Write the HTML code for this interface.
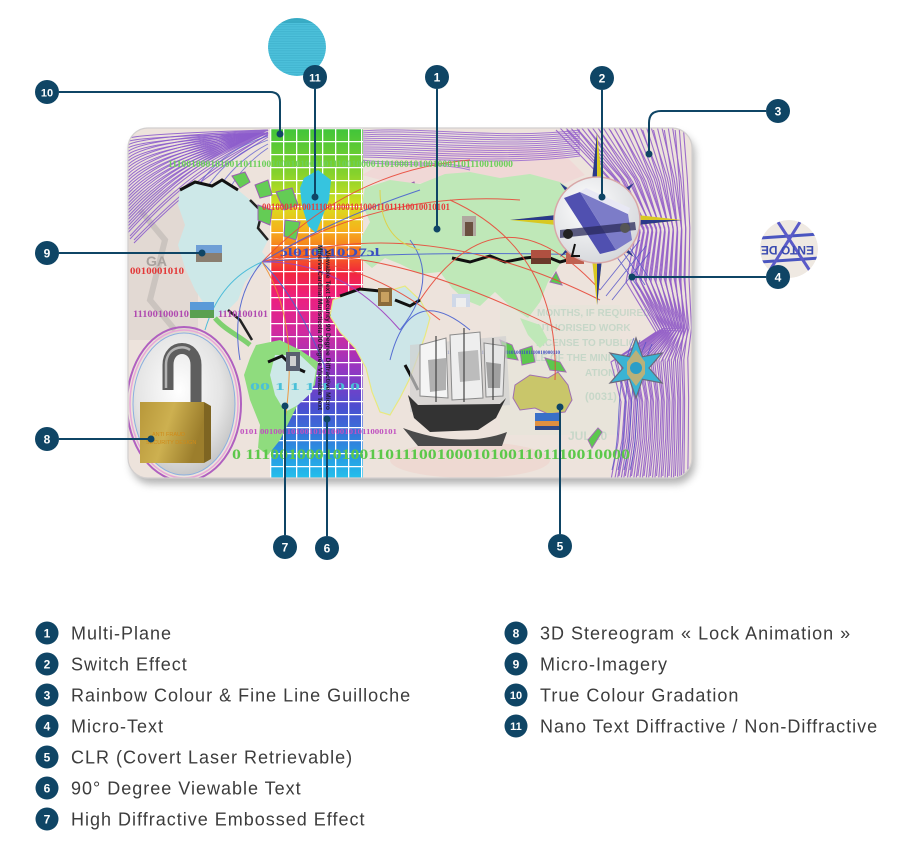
<!DOCTYPE html>
<html><head><meta charset="utf-8">
<style>
html,body{margin:0;padding:0;background:#fff;}
body{width:920px;height:844px;overflow:hidden;position:relative;}
svg{position:absolute;left:0;top:0;display:block;}
</style></head>
<body>
<svg width="920" height="844" viewBox="0 0 920 844" xmlns="http://www.w3.org/2000/svg" xmlns:xlink="http://www.w3.org/1999/xlink" font-family="Liberation Sans, sans-serif">
<defs>
  <clipPath id="card"><rect x="128" y="128" width="564" height="350" rx="20"/></clipPath>
  <clipPath id="nano"><circle cx="297" cy="47" r="29"/></clipPath>
  <clipPath id="micro"><circle cx="789" cy="249" r="29"/></clipPath>
  <filter id="sh" x="-10%" y="-10%" width="120%" height="130%"><feGaussianBlur stdDeviation="4"/></filter>
  <linearGradient id="rain" x1="0" y1="128" x2="0" y2="478" gradientUnits="userSpaceOnUse">
    <stop offset="0" stop-color="#3fc43a"/>
    <stop offset="0.13" stop-color="#86d22c"/>
    <stop offset="0.22" stop-color="#d6e01f"/>
    <stop offset="0.29" stop-color="#f6b21c"/>
    <stop offset="0.36" stop-color="#f56a1f"/>
    <stop offset="0.41" stop-color="#f2283a"/>
    <stop offset="0.48" stop-color="#ee1f7d"/>
    <stop offset="0.58" stop-color="#d22a9e"/>
    <stop offset="0.68" stop-color="#9a34c0"/>
    <stop offset="0.80" stop-color="#4a4ed0"/>
    <stop offset="0.92" stop-color="#2a8fe0"/>
    <stop offset="1" stop-color="#22c0ec"/>
  </linearGradient>
  <pattern id="grid" x="270" y="128" width="13" height="13" patternUnits="userSpaceOnUse">
    <path d="M0,0 H13 M0,0 V13" stroke="#fff" stroke-width="2.6" fill="none"/>
  </pattern>
  <pattern id="hl" x="0" y="0" width="3" height="2.4" patternUnits="userSpaceOnUse">
    <rect width="3" height="0.8" fill="#2f9fbd"/>
  </pattern>
  <radialGradient id="lockbg" cx="0.45" cy="0.4" r="0.6">
    <stop offset="0" stop-color="#ffffff"/>
    <stop offset="0.7" stop-color="#e4e4e4"/>
    <stop offset="1" stop-color="#c8c8c8"/>
  </radialGradient>
  <linearGradient id="gold" x1="0" y1="0" x2="1" y2="0.3">
    <stop offset="0" stop-color="#b8983a"/>
    <stop offset="0.5" stop-color="#cdb050"/>
    <stop offset="1" stop-color="#9c7e2c"/>
  </linearGradient>
  <linearGradient id="shack" x1="0" y1="0" x2="1" y2="0">
    <stop offset="0" stop-color="#4a4a4a"/>
    <stop offset="0.4" stop-color="#9a9a9a"/>
    <stop offset="1" stop-color="#3a3a3a"/>
  </linearGradient>
  <radialGradient id="disc" cx="0.4" cy="0.35" r="0.7">
    <stop offset="0" stop-color="#ffffff"/>
    <stop offset="1" stop-color="#d4d6da"/>
  </radialGradient>
</defs>

<!-- card shadow -->
<rect x="131" y="134" width="564" height="350" rx="20" fill="#8a8a8a" opacity="0.65" filter="url(#sh)"/>
<rect x="128" y="128" width="564" height="350" rx="20" fill="#ede3dc"/>

<g clip-path="url(#card)">
  <!-- background texture -->
  <rect x="128" y="128" width="564" height="350" fill="#ede3dc"/>
  <rect x="128" y="190" width="70" height="150" fill="#ddd4cf" opacity="0.7"/>
  <path d="M140,210 L165,240 L150,300 L175,330" stroke="#bdb6b2" stroke-width="6" fill="none" opacity="0.6"/>
  <text x="146" y="266" font-family="Liberation Sans, sans-serif" font-weight="bold" font-size="14" fill="#a9a29e">GA</text>
  <rect x="500" y="305" width="120" height="130" fill="#e4e6d8" opacity="0.5"/>
  <g font-family="Liberation Sans, sans-serif" font-weight="bold" fill="#9fc9b4" opacity="0.45">
    <text x="537" y="316" font-size="10">MONTHS, IF REQUIRED</text>
    <text x="530" y="331" font-size="10">AUTHORISED WORK</text>
    <text x="536" y="346" font-size="10">LICENSE TO PUBLIC</text>
    <text x="520" y="361" font-size="10">ABLE OF THE MINI</text>
    <text x="585" y="376" font-size="10">ATION</text>
    <text x="585" y="400" font-size="11">(0031)</text>
    <text x="568" y="440" font-size="12">JUL 20</text>
  </g>
  <ellipse cx="470" cy="460" rx="80" ry="18" fill="#f0cfc8" opacity="0.5"/>

  <!-- pinkish relief above Eurasia -->
  <path d="M362,175 C400,150 470,140 560,150 L585,175 L560,185 L470,178 L400,185 Z" fill="#f0d8d6"/>

  <!-- top-left guilloche -->
  <g id="tlg" fill="none" stroke="#8c5ccc" stroke-width="1" opacity="0.9">
    <path d="M268,130 C200,132 135,135 128,138.5"/>
    <path d="M268,130 C200,134 138,138 128,145"/>
    <path d="M268,130 C200,136 141,141 128,151.5"/>
    <path d="M268,130 C200,138 144,144 128,158"/>
    <path d="M268,130 C200,140 147,147 128,164.5"/>
    <path d="M268,130 C200,142 150,150 128,171"/>
    <path d="M268,130 C200,144 153,153 128,177.5"/>
    <path d="M268,130 C200,146 156,156 128,184"/>
    <path d="M268,130 C200,148 159,159 128,190.5"/>
    <path d="M268,130 C200,150 162,162 128,197"/>
    <path d="M268,130 C200,152 165,165 128,203.5"/>
    <path d="M268,130 C200,154 168,168 128,210"/>
    <path d="M268,130 C200,156 171,171 128,216.5"/>
    <path d="M268,130 C200,158 174,174 128,223"/>
    <path d="M268,130 C200,160 177,177 128,229.5"/>
    <path d="M268,132 C205,165 180,182 130,236"/>
    <path d="M268,134 C210,170 185,188 134,240"/>
  </g>
  <use xlink:href="#tlg" href="#tlg" transform="translate(0,3)"/>
  <g fill="none" stroke="#5a5ad0" stroke-width="0.9" opacity="0.75">
    <path d="M268,140 C240,150 215,170 200,200"/>
    <path d="M268,144 C245,156 222,176 210,205"/>
    <path d="M268,148 C250,160 230,180 220,210"/>
    <path d="M268,136 C235,146 208,166 192,196"/>
  </g>

  <!-- top band guilloche -->
  <g id="tbg" fill="none" stroke="#9a6ad0" stroke-width="1" opacity="0.85">
    <path d="M362,131 C420,126 500,140 580,130"/>
    <path d="M362,135 C420,131 500,144 580,134"/>
    <path d="M362,139 C420,136 500,148 580,138"/>
    <path d="M362,143 C420,141 500,152 580,142"/>
    <path d="M362,147 C420,146 500,156 580,146"/>
    <path d="M362,151 C420,151 500,160 580,150"/>
    <path d="M362,155 C420,156 500,164 580,154"/>
    <path d="M362,160 C400,165 440,160 470,168"/>
  </g>
  <use xlink:href="#tbg" href="#tbg" transform="translate(0,2)"/>

  <!-- right guilloche -->
  <g id="rg" fill="none" stroke="#9460c8" stroke-width="1.1" opacity="0.9" stroke-linejoin="round">
    <polyline points="560,128 610,180 640,230 630,280 660,330 615,360 625,400 622,440 615,478"/>
    <polyline points="570.8,128 616.7,180 644.2,230 635,280 662.5,330 621.3,360 630.4,400 627.7,440 621.3,478"/>
    <polyline points="581.7,128 623.3,180 648.3,230 640,280 665,330 627.5,360 635.8,400 633.3,440 627.5,478"/>
    <polyline points="592.5,128 630,180 652.5,230 645,280 667.5,330 633.8,360 641.3,400 639,440 633.8,478"/>
    <polyline points="603.3,128 636.7,180 656.7,230 650,280 670,330 640,360 646.7,400 644.7,440 640,478"/>
    <polyline points="614.2,128 643.3,180 660.8,230 655,280 672.5,330 646.3,360 652.1,400 650.3,440 646.3,478"/>
    <polyline points="625,128 650,180 665,230 660,280 675,330 652.5,360 657.5,400 656,440 652.5,478"/>
    <polyline points="635.8,128 656.7,180 669.2,230 665,280 677.5,330 658.8,360 662.9,400 661.7,440 658.8,478"/>
    <polyline points="646.7,128 663.3,180 673.3,230 670,280 680,330 665,360 668.3,400 667.3,440 665,478"/>
    <polyline points="657.5,128 670,180 677.5,230 675,280 682.5,330 671.3,360 673.8,400 673,440 671.3,478"/>
    <polyline points="668.3,128 676.7,180 681.7,230 680,280 685,330 677.5,360 679.2,400 678.7,440 677.5,478"/>
    <polyline points="679.2,128 683.3,180 685.8,230 685,280 687.5,330 683.8,360 684.6,400 684.3,440 683.8,478"/>
  </g>
  <use xlink:href="#rg" href="#rg" transform="translate(-4,2)"/>
  <use xlink:href="#rg" href="#rg" transform="translate(4,-2)"/>
  <g fill="none" stroke="#4f4ec8" stroke-width="0.9" opacity="0.8">
    <path d="M605,240 L640,290 M612,236 L645,285 M620,232 L650,280 M600,290 L640,240 M606,296 L646,246 M612,300 L650,252"/>
    <path d="M618,470 C630,420 618,390 640,340 M624,470 C636,420 624,392 646,342 M630,470 C642,420 630,394 652,344 M612,470 C624,420 612,388 634,338"/>
  </g>

  <!-- rainbow column -->
  <rect x="270" y="128" width="93" height="350" fill="url(#rain)"/>
  <rect x="270" y="128" width="93" height="350" fill="url(#grid)"/>

  <!-- North America -->
  <path d="M180,190 L195,182 L212,186 L222,180 L238,190 L250,200 L262,212 L258,228 L268,240 L262,252 L270,262 L255,270 L245,282 L238,300 L228,310 L215,318 L205,305 L195,290 L185,268 L178,245 L185,225 L178,205 Z" fill="#cde8e8"/>
  <path d="M180,190 L195,182 L212,186 L222,180 L238,190" stroke="#111" stroke-width="3" fill="none"/>
  <path d="M250,200 L262,212 L258,228 L268,240 M228,310 L240,320 L252,340" stroke="#222" stroke-width="2.5" fill="none"/>
  <path d="M215,318 C225,330 238,335 250,345" stroke="#7fd070" stroke-width="5" fill="none"/>
  <!-- arctic islands -->
  <g fill="#64cc55" stroke="#9a60b0" stroke-width="1">
    <path d="M232,176 L245,172 L250,182 L240,188 Z"/>
    <path d="M255,185 L268,180 L272,195 L260,198 Z"/>
    <path d="M276,192 L292,188 L298,205 L284,210 Z"/>
    <path d="M258,205 L272,210 L270,225 L258,220 Z"/>
    <path d="M285,220 L300,222 L296,240 L284,236 Z"/>
    <path d="M402,188 L414,182 L418,196 L406,198 Z"/>
    <path d="M455,182 L466,176 L470,190 Z"/>
    <path d="M312,250 L322,246 L324,256 Z"/>
  </g>
  <!-- Greenland -->
  <path d="M304,178 L318,170 L331,180 L329,200 L323,215 L316,233 L308,226 L302,206 L300,188 Z" fill="#36c4df"/>

  <!-- Eurasia -->
  <path d="M365,188 L390,180 L420,184 L445,174 L470,172 L500,178 L530,174 L560,182 L580,196 L592,215 L588,240 L576,258 L560,264 L548,282 L540,302 L528,318 L510,306 L495,292 L480,306 L465,300 L452,288 L440,272 L420,274 L400,264 L385,258 L372,268 L360,258 L362,236 L370,222 L362,204 Z" fill="#bfe8b8"/>
  <path d="M520,318 L540,325 L548,340 L540,348 L528,335 Z" fill="#bfe8b8"/>
  <!-- Africa -->
  <path d="M333,300 L358,290 L385,292 L405,286 L420,300 L430,318 L425,336 L418,356 L410,378 L400,398 L390,415 L380,412 L372,392 L366,368 L355,348 L340,332 L330,316 Z" fill="#cde6e8" stroke="#e8e880" stroke-width="1.2"/>
  <!-- South America -->
  <path d="M256,345 L280,340 L300,350 L318,362 L315,385 L300,400 L290,420 L280,440 L268,455 L258,448 L260,425 L250,400 L244,375 L250,358 Z" fill="#8fdc7e"/>
  <path d="M275,355 L300,355 L316,370 L312,392 L298,405 L285,412 L275,395 L270,375 Z" fill="#cde8e8"/>
  <!-- Australia -->
  <path d="M515,385 L530,375 L548,378 L558,372 L568,385 L572,400 L565,412 L548,414 L535,408 L520,410 L513,398 Z" fill="#c9c66a" stroke="#a070b0" stroke-width="1"/>
  <!-- SE Asia islands -->
  <g fill="#5cc84e" stroke="#a070b0" stroke-width="1">
    <path d="M500,340 L512,345 L518,360 L506,358 Z"/>
    <path d="M520,350 L532,346 L535,362 L522,365 Z"/>
    <path d="M545,358 L560,362 L566,372 L550,370 Z"/>
    <path d="M588,440 L598,428 L602,432 L592,448 Z"/>
    <path d="M550,282 L556,272 L562,285 Z"/>
  </g>

  <!-- black borders -->
  <g stroke="#111" stroke-width="3" fill="none">
    <path d="M452,258 L470,262 L490,256 L505,262 L525,258 L545,256 L560,262 L575,258"/>
    <path d="M340,296 L360,289 L380,291"/>
    <path d="M395,300 L410,306 L420,300"/>
    <path d="M268,362 L282,356 L292,366 L305,372"/>
    <path d="M405,365 L412,378 L418,390"/>
  </g>

  <!-- flight arcs -->
  <g fill="none" stroke-width="1" opacity="0.9">
    <path d="M262,262 Q350,170 470,160" stroke="#e84a3a"/>
    <path d="M262,262 Q380,190 520,200" stroke="#e84a3a"/>
    <path d="M262,262 Q420,210 600,300" stroke="#e84a3a"/>
    <path d="M262,262 Q370,235 560,330" stroke="#e84a3a"/>
    <path d="M262,262 Q350,250 440,320" stroke="#e84a3a"/>
    <path d="M262,262 Q330,220 420,190" stroke="#4a62d0"/>
    <path d="M262,262 Q400,250 600,255" stroke="#4a62d0"/>
    <path d="M262,262 Q340,260 400,330" stroke="#a040c0"/>
    <path d="M262,262 Q300,300 330,380" stroke="#4a62d0"/>
    <path d="M262,262 Q230,300 240,360" stroke="#4a62d0"/>
    <path d="M262,262 Q220,280 205,330" stroke="#40b8d8"/>
    <path d="M262,262 Q300,320 285,420" stroke="#f09030"/>
    <path d="M420,300 Q500,180 600,290" stroke="#e84a3a"/>
    <path d="M450,200 Q560,250 555,380" stroke="#e84a3a"/>
    <path d="M390,360 Q410,280 470,330" stroke="#4a62d0"/>
    <path d="M400,330 Q440,280 410,240" stroke="#4a62d0"/>
    <path d="M380,190 Q380,240 420,250" stroke="#e0d040"/>
  </g>

  <!-- binary texts -->
  <g font-family="Liberation Serif, serif" font-weight="bold">
    <text x="168" y="167" font-size="9.5" fill="#6ccf5a" textLength="345" lengthAdjust="spacingAndGlyphs">1110010001010011011100100010100110111001000011010001010010001101110010000</text>
    <text x="262" y="210" font-size="9" fill="#e8393a" textLength="188" lengthAdjust="spacingAndGlyphs">0010001010011100100010100011011110010010101</text>
    <text x="130" y="274" font-size="9.5" fill="#e33838" textLength="54" lengthAdjust="spacingAndGlyphs">0010001010</text>
    <text x="133" y="317" font-size="9" fill="#b04ab0" textLength="56" lengthAdjust="spacingAndGlyphs">11100100010</text>
    <text x="218" y="317" font-size="9" fill="#b04ab0" textLength="50" lengthAdjust="spacingAndGlyphs">1110100101</text>
    <text x="280" y="256" font-size="12" fill="#3a4fc0" textLength="100" lengthAdjust="spacingAndGlyphs">ɔƖ010010Ɔ7ɔƖ</text>
    <text x="240" y="434" font-size="7.5" fill="#c050c0" textLength="157" lengthAdjust="spacingAndGlyphs">0101  0010001010010101000101011000101</text>
    <text x="232" y="459" font-size="15" fill="#5cc84a" textLength="398" lengthAdjust="spacingAndGlyphs">0 11100100010100110111001000101001101110010000</text>
    <text x="430" y="354" font-size="5" fill="#4050c0" textLength="130" lengthAdjust="spacingAndGlyphs">10011011100100010100110111001000101001101110010000110</text>
    <text x="250" y="390" font-size="11" fill="#4ac0d8" textLength="110" lengthAdjust="spacingAndGlyphs">00     1 1 1 1 0 0</text>
  </g>
  <!-- 90 degree vertical text -->
  <g font-family="Liberation Sans, sans-serif" font-size="6" fill="#1a1a2a" font-weight="bold">
    <text transform="translate(318,245) rotate(90)" textLength="165" lengthAdjust="spacingAndGlyphs">Minerva Cardinal Muristicola 90 Degree Viewable Text</text>
    <text transform="translate(326,250) rotate(90)" textLength="160" lengthAdjust="spacingAndGlyphs">Viewable Text Security 90 Degree Diffractive Micro</text>
  </g>

  <!-- micro images -->
  <g>
    <rect x="196" y="245" width="26" height="17" fill="#6f9fd6"/><rect x="196" y="253" width="26" height="9" fill="#8a7e70"/>
    <rect x="190" y="302" width="24" height="16" fill="#5a9ad8"/><rect x="190" y="310" width="24" height="8" fill="#5aa050"/>
    <rect x="286" y="352" width="14" height="19" fill="#5a6070"/><rect x="290" y="356" width="6" height="10" fill="#d0d0d0"/>
    <rect x="378" y="288" width="14" height="18" fill="#8a6a3a"/><rect x="381" y="292" width="8" height="10" fill="#c8a060"/>
    <rect x="462" y="216" width="14" height="20" fill="#b0a8a0"/><rect x="465" y="222" width="8" height="14" fill="#6a5040"/>
    <rect x="452" y="294" width="18" height="13" fill="#cfd8e8"/><rect x="456" y="298" width="10" height="9" fill="#eeeeee"/>
    <rect x="531" y="250" width="20" height="14" fill="#b05040"/><rect x="531" y="258" width="20" height="6" fill="#6a3a2a"/>
    <rect x="535" y="413" width="24" height="17" fill="#3a70c8"/><rect x="535" y="421" width="24" height="5" fill="#e09040"/><rect x="535" y="426" width="24" height="4" fill="#304a8a"/>
    <rect x="566" y="252" width="18" height="12" fill="#c06050"/>
  </g>

  <!-- ship -->
  <g>
    <path d="M410,345 L506,336 L510,405 L410,412 Z" fill="#d0d0d0" opacity="0.7"/>
    <path d="M420,345 L446,338 L448,398 L420,396 Z" fill="#f4f4f4" stroke="#8a8a8a" stroke-width="1"/>
    <path d="M450,335 L480,332 L483,398 L452,400 Z" fill="#eeeeee" stroke="#8a8a8a" stroke-width="1"/>
    <path d="M484,343 L505,346 L503,396 L486,397 Z" fill="#e6e6e6" stroke="#8a8a8a" stroke-width="1"/>
    <path d="M428,360 L446,358 L446,390 L430,392 Z" fill="#b0b0b0"/>
    <path d="M458,352 L478,350 L480,380 L460,382 Z" fill="#bcbcbc"/>
    <path d="M486,362 L501,364 L500,388 L488,388 Z" fill="#a0a0a0"/>
    <path d="M408,395 L418,405 L500,404 L506,398 L496,418 L478,430 L430,432 L414,418 Z" fill="#333"/>
    <path d="M403,428 C430,438 470,446 507,432 L502,446 L418,446 Z" fill="#4a4a4a"/>
    <path d="M436,336 L436,402 M464,328 L464,402 M493,338 L493,400" stroke="#444" stroke-width="1.2"/>
  </g>

  <!-- compass -->
  <g>
    <path d="M597,133 L604,200 L590,200 Z" fill="#d8c822"/>
    <path d="M597,133 L597,200 L590,200 Z" fill="#2a3a8a"/>
    <path d="M597,305 L604,240 L590,240 Z" fill="#d8c822"/>
    <path d="M597,305 L597,240 L604,240 Z" fill="#2a3a8a"/>
    <path d="M510,220 L575,213 L575,227 Z" fill="#d8c822"/>
    <path d="M510,220 L575,220 L575,213 Z" fill="#2a3a8a"/>
    <path d="M682,220 L620,213 L620,227 Z" fill="#d8c822"/>
    <path d="M682,220 L620,220 L620,227 Z" fill="#2a3a8a"/>
    <path d="M634,183 L618,205 L612,196 Z" fill="#2a3a8a"/>
    <path d="M560,183 L582,198 L575,205 Z" fill="#2a3a8a"/>
    <path d="M634,257 L612,244 L618,236 Z" fill="#2a3a8a"/>
    <path d="M560,257 L576,236 L582,242 Z" fill="#2a3a8a"/>
    <circle cx="597" cy="220" r="43" fill="url(#disc)" stroke="#d8a8a8" stroke-width="1.5"/>
    <path d="M564,198 L580,192 L616,250 L600,254 Z" fill="#5050b0"/>
    <path d="M580,192 L628,214 L632,240 L616,250 Z" fill="#7c7cc8"/>
    <path d="M580,192 L628,214 L630,208 L586,188 Z" fill="#e8e8f4"/>
    <path d="M560,230 L635,222 L636,230 L560,238 Z" fill="#2a2a5a" opacity="0.75"/>
    <circle cx="568" cy="234" r="5" fill="#222"/>
    <circle cx="625" cy="228" r="5" fill="#555"/>
    <path d="M575,244 L572,256 L580,256" stroke="#111" stroke-width="2" fill="none"/>
  </g>

  <!-- ornament star -->
  <polygon points="636,338 642.5,356.7 662,353 649,368 662,383 642.5,379.3 636,398 629.5,379.3 610,383 623,368 610,353 629.5,356.7" fill="#3ab4d4" stroke="#6a6a7a" stroke-width="1.2"/>
  <polygon points="636,350 645,362 645,374 636,386 627,374 627,362" fill="#c8b070" opacity="0.9"/>
  <circle cx="636" cy="368" r="6" fill="#2a9ec8"/>

  <!-- lock -->
  <ellipse cx="184" cy="404" rx="57" ry="77" fill="none" stroke="#b060c0" stroke-width="2"/>
  <ellipse cx="184" cy="404" rx="54" ry="74" fill="none" stroke="#e8a8d8" stroke-width="1.5"/>
  <ellipse cx="184" cy="404" rx="51" ry="71" fill="url(#lockbg)" stroke="#8ab0e0" stroke-width="1"/>
  <path d="M168,390 L168,365 C168,343 196,343 196,365 L196,404" stroke="#5e5e5e" stroke-width="11" fill="none"/>
  <path d="M166,388 L166,365 C166,348 182,344 190,350" stroke="#b4b4b4" stroke-width="2.5" fill="none"/>
  <rect x="140" y="402" width="64" height="61" fill="url(#gold)"/>
  <path d="M204,402 L211,406 L211,459 L204,463 Z" fill="#7e6522"/>
  <text x="152" y="436" font-family="Liberation Sans, sans-serif" font-size="5.5" fill="#d08a18">ANTI FRAUD</text>
  <text x="146" y="444" font-family="Liberation Sans, sans-serif" font-size="5.5" fill="#d08a18">SECURITY DESIGN</text>
</g>
<rect x="128" y="128" width="564" height="350" rx="20" fill="none" stroke="#d2cfcf" stroke-width="1.2"/>

<!-- nano lens -->
<g clip-path="url(#nano)">
  <circle cx="297" cy="47" r="29" fill="#4cc0da"/>
  <rect x="268" y="18" width="58" height="58" fill="url(#hl)" opacity="0.45"/>
  <rect x="268" y="18" width="58" height="5" fill="#2a9cb4" opacity="0.5"/>
</g>

<!-- micro-text lens -->
<g clip-path="url(#micro)">
  <circle cx="789" cy="249" r="29" fill="#efe9e2"/>
  <path d="M760,238 L820,234 M760,262 L820,258" stroke="#4a55c0" stroke-width="3"/>
  <path d="M778,222 L812,274 M800,222 L770,270" stroke="#5a5ac8" stroke-width="3"/>
  <text transform="translate(814,246) rotate(180)" font-family="Liberation Sans, sans-serif" font-weight="bold" font-size="12" fill="#3a4ab0">ENTO DE S</text>
</g>

<!-- callouts -->
<g stroke="#0f4565" stroke-width="2" fill="none">
  <path d="M59,92 L270,92 Q280,92 280,102 L280,134"/>
  <path d="M315,89 L315,197"/>
  <path d="M437,89 L437,229"/>
  <path d="M602,90 L602,197"/>
  <path d="M766,111 L661,111 Q649,111 649,123 L649,154"/>
  <path d="M766,277 L632,277"/>
  <path d="M59,253 L202,253"/>
  <path d="M59,439 L151,439"/>
  <path d="M285,535 L285,406"/>
  <path d="M327,536 L327,419"/>
  <path d="M560,534 L560,407"/>
</g>
<g fill="#0f4565">
  <circle cx="280" cy="134" r="3.5"/>
  <circle cx="315" cy="197" r="3.5"/>
  <circle cx="437" cy="229" r="3.5"/>
  <circle cx="602" cy="197" r="3.5"/>
  <circle cx="649" cy="154" r="3.5"/>
  <circle cx="632" cy="277" r="3.5"/>
  <circle cx="202" cy="253" r="3.5"/>
  <circle cx="151" cy="439" r="3.5"/>
  <circle cx="285" cy="406" r="3.5"/>
  <circle cx="327" cy="419" r="3.5"/>
  <circle cx="560" cy="407" r="3.5"/>

  <circle cx="47" cy="92" r="12"/>
  <circle cx="315" cy="77" r="12"/>
  <circle cx="437" cy="77" r="12"/>
  <circle cx="602" cy="78" r="12"/>
  <circle cx="778" cy="111" r="12"/>
  <circle cx="778" cy="277" r="12"/>
  <circle cx="47" cy="253" r="12"/>
  <circle cx="47" cy="439" r="12"/>
  <circle cx="285" cy="547" r="12"/>
  <circle cx="327" cy="548" r="12"/>
  <circle cx="560" cy="546" r="12"/>
</g>
<g fill="#fff" font-family="Liberation Sans, sans-serif" font-weight="bold" font-size="12" text-anchor="middle">
  <text x="47" y="96.5" font-size="11">10</text>
  <text x="315" y="81.5" font-size="11">11</text>
  <text x="437" y="81.5">1</text>
  <text x="602" y="82.5">2</text>
  <text x="778" y="115.5">3</text>
  <text x="778" y="281.5">4</text>
  <text x="47" y="257.5">9</text>
  <text x="47" y="443.5">8</text>
  <text x="285" y="551.5">7</text>
  <text x="327" y="552.5">6</text>
  <text x="560" y="550.5">5</text>
</g>

<!-- legend -->
<g fill="#0f4565">
  <circle cx="47" cy="633" r="11.5"/>
  <circle cx="47" cy="664" r="11.5"/>
  <circle cx="47" cy="695" r="11.5"/>
  <circle cx="47" cy="726" r="11.5"/>
  <circle cx="47" cy="757" r="11.5"/>
  <circle cx="47" cy="788" r="11.5"/>
  <circle cx="47" cy="819" r="11.5"/>
  <circle cx="516" cy="633" r="11.5"/>
  <circle cx="516" cy="664" r="11.5"/>
  <circle cx="516" cy="695" r="11.5"/>
  <circle cx="516" cy="726" r="11.5"/>
</g>
<g fill="#fff" font-family="Liberation Sans, sans-serif" font-weight="bold" font-size="12" text-anchor="middle">
  <text x="47" y="637.5">1</text>
  <text x="47" y="668.5">2</text>
  <text x="47" y="699.5">3</text>
  <text x="47" y="730.5">4</text>
  <text x="47" y="761.5">5</text>
  <text x="47" y="792.5">6</text>
  <text x="47" y="823.5">7</text>
  <text x="516" y="637.5">8</text>
  <text x="516" y="668.5">9</text>
  <text x="516" y="699" font-size="11">10</text>
  <text x="516" y="730" font-size="11">11</text>
</g>
<g fill="#3c3c3c" font-family="Liberation Sans, sans-serif" font-size="18" letter-spacing="1">
  <text x="71" y="639.5">Multi-Plane</text>
  <text x="71" y="670.5">Switch Effect</text>
  <text x="71" y="701.5">Rainbow Colour &amp; Fine Line Guilloche</text>
  <text x="71" y="732.5">Micro-Text</text>
  <text x="71" y="763.5">CLR (Covert Laser Retrievable)</text>
  <text x="71" y="794.5">90° Degree Viewable Text</text>
  <text x="71" y="825.5">High Diffractive Embossed Effect</text>
  <text x="540" y="639.5">3D Stereogram « Lock Animation »</text>
  <text x="540" y="670.5">Micro-Imagery</text>
  <text x="540" y="701.5">True Colour Gradation</text>
  <text x="540" y="732.5">Nano Text Diffractive / Non-Diffractive</text>
</g>
</svg>
</body></html>
